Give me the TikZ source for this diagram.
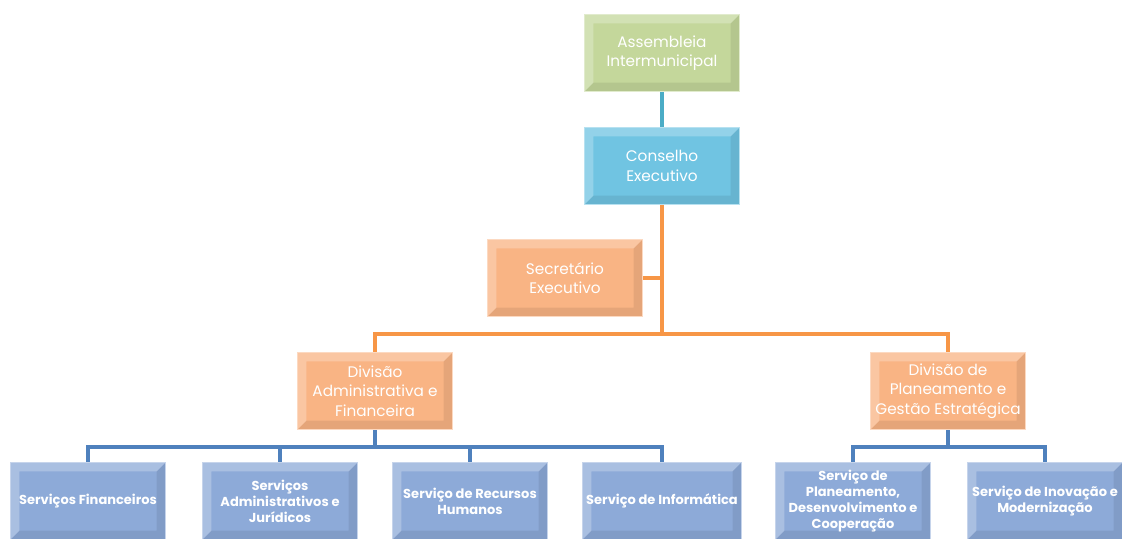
\documentclass[tikz,border=0pt]{standalone}
\usepackage{fontspec}
\setmainfont{Poppins}
\usepackage{tikz}
\usetikzlibrary{calc}
\definecolor{asmgreen}{RGB}{196,215,155}
\definecolor{consblue}{RGB}{112,196,226}
\definecolor{divorange}{RGB}{249,180,132}
\definecolor{servblue}{RGB}{141,170,216}
\definecolor{lineteal}{RGB}{75,172,198}
\definecolor{lineorange}{RGB}{247,150,70}
\definecolor{lineblue}{RGB}{79,129,189}
\newcommand{\bevel}{%
	\path (path picture bounding box.north west) coordinate (nw)
		(path picture bounding box.north east) coordinate (ne)
		(path picture bounding box.south west) coordinate (sw)
		(path picture bounding box.south east) coordinate (se);
	\fill[white, opacity=.25] (sw) -- (nw) -- (ne) -- ([shift={(-5pt,-5pt)}]ne) -- ([shift={(5pt,-5pt)}]nw) -- ([shift={(5pt,5pt)}]sw) -- cycle;
	\fill[black, opacity=.08] (sw) -- (se) -- (ne) -- ([shift={(-5pt,-5pt)}]ne) -- ([shift={(-5pt,5pt)}]se) -- ([shift={(5pt,5pt)}]sw) -- cycle;
}
\tikzset{
	orgbox/.style = {draw=#1!50!white, line width=.8pt, fill=#1, minimum width=3.1cm, minimum height=1.54cm,
		text=white, align=center, inner sep=2pt, font=\fontsize{8.7}{11}\selectfont, path picture={\bevel}},
	servbox/.style = {orgbox=servblue, font=\fontsize{7.4}{9.2}\selectfont\bfseries},
	link/.style = {line width=2pt, #1}
}

\begin{document}
\begin{tikzpicture}[x=0.02cm, y=-0.02cm]
	\useasboundingbox (0,0) rectangle (1122,538);
	\clip (0,0) rectangle (1122,538);

	% top of the chart
	\node[orgbox=asmgreen] (asm) at (662,53) {Assembleia\\Intermunicipal};
	\node[orgbox=consblue] (cons) at (662,166) {Conselho\\Executivo};
	\node[orgbox=divorange] (sec) at (565,278) {Secretário\\Executivo};

	% divisions
	\node[orgbox=divorange] (dadm) at (375,391) {Divisão\\Administrativa e\\Financeira};
	\node[orgbox=divorange] (dplan) at (948,391) {Divisão de\\Planeamento e\\Gestão Estratégica};

	% services
	\node[servbox] (sfin) at (88,501) {Serviços Financeiros};
	\node[servbox] (sadm) at (280,501) {Serviços\\Administrativos e\\Jurídicos};
	\node[servbox] (srh) at (470,501) {Serviço de Recursos\\Humanos};
	\node[servbox] (sinf) at (662,501) {Serviço de Informática};
	\node[servbox] (splan) at (853,501) {Serviço de\\Planeamento,\\Desenvolvimento e\\Cooperação};
	\node[servbox] (sinov) at (1045,501) {Serviço de Inovação e\\Modernização};

	\coordinate (bustop) at (662,334);
	\coordinate (busadm) at (375,447);
	\coordinate (busplan) at (948,447);

	% connectors
	\draw[link=lineteal] (asm) -- (cons);
	\draw[link=lineorange] (cons.south) -- (bustop);
	\draw[link=lineorange] (sec.east) -- (sec.east -| cons.south);
	\draw[link=lineorange] (dadm.north) |- (bustop) -| (dplan.north);
	\draw[link=lineblue] (dadm.south) -- (busadm);
	\draw[link=lineblue] (sfin.north) |- (busadm) -| (sinf.north);
	\draw[link=lineblue] (sadm.north) |- (busadm);
	\draw[link=lineblue] (srh.north) |- (busadm);
	\draw[link=lineblue] (dplan.south) -- (busplan);
	\draw[link=lineblue] (splan.north) |- (busplan) -| (sinov.north);
\end{tikzpicture}
\end{document}
